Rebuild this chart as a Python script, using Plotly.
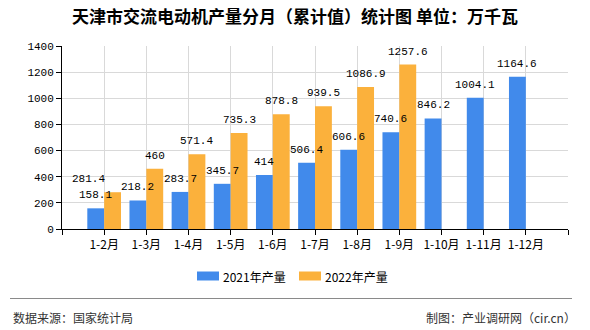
import plotly.graph_objects as go

# Monthly cumulative output of AC electric motors in Tianjin (10k kW)
categories = ["1-2月", "1-3月", "1-4月", "1-5月", "1-6月", "1-7月",
              "1-8月", "1-9月", "1-10月", "1-11月", "1-12月"]
values_2021 = [158.1, 218.2, 283.7, 345.7, 414, 506.4, 606.6, 740.6,
               846.2, 1004.1, 1164.6]
values_2022 = [281.4, 460, 571.4, 735.3, 878.8, 939.5, 1086.9, 1257.6,
               None, None, None]
series_names = ["2021年产量", "2022年产量"]
y_ticks = [0, 200, 400, 600, 800, 1000, 1200, 1400]

BLUE = "#418aeb"
ORANGE = "#fbb13c"
COLORS = [BLUE, ORANGE]
CJK = "Noto Sans CJK SC, Noto Sans, sans-serif"
MONO = "Liberation Mono, DejaVu Sans Mono, monospace"

# plot-area geometry in pixels
W, H = 590, 330
L, R, T, B = 62, 22, 46, 101
PW, PH = W - L - R, H - T - B


def px_x(x):
    return (x - L) / PW


def px_y(y):
    return (H - B - y) / PH


xs = list(range(len(categories)))


def fmt(v):
    return f"{v:g}"


fig = go.Figure()
for name, vals, col in zip(series_names, [values_2021, values_2022], COLORS):
    fig.add_trace(go.Bar(x=xs, y=vals, name=name, showlegend=False,
                         marker=dict(color=col, line=dict(width=0))))

# value labels above each bar
annotations = []
for i, v in enumerate(values_2021):
    annotations.append(dict(x=i - 0.2, y=v, xref="x", yref="y", text=fmt(v),
                            showarrow=False, yanchor="bottom", yshift=5,
                            font=dict(family=MONO, size=11, color="#000")))
for i, v in enumerate(values_2022):
    if v is None:
        continue
    xshift = -24 if i == 0 else 0
    annotations.append(dict(x=i + 0.2, y=v, xref="x", yref="y", text=fmt(v),
                            showarrow=False, yanchor="bottom", yshift=5,
                            xshift=xshift,
                            font=dict(family=MONO, size=11, color="#000")))

# legend: wide colour swatches followed by series names
shapes = []
legend_x0 = [197, 299]
for x0, name, col in zip(legend_x0, series_names, COLORS):
    shapes.append(dict(type="rect", xref="paper", yref="paper",
                       x0=px_x(x0), x1=px_x(x0 + 22),
                       y0=px_y(280.5), y1=px_y(271.5),
                       fillcolor=col, line=dict(width=0)))
    annotations.append(dict(x=px_x(x0 + 24), y=px_y(276), xref="paper",
                            yref="paper", text=name, showarrow=False,
                            xanchor="left", yanchor="middle",
                            font=dict(family=CJK, size=12, color="#000")))

# footer rule and texts
shapes.append(dict(type="line", xref="paper", yref="paper",
                   x0=px_x(10), x1=px_x(572), y0=px_y(298.5), y1=px_y(298.5),
                   line=dict(color="#8a8a8a", width=1)))
annotations += [
    dict(x=px_x(11), y=px_y(317), xref="paper", yref="paper",
         text="数据来源：国家统计局",
         showarrow=False, xanchor="left", yanchor="middle",
         font=dict(family=CJK, size=12, color="#333")),
    dict(x=px_x(578), y=px_y(317), xref="paper", yref="paper",
         text="制图：产业调研网（cir.cn）",
         showarrow=False, xanchor="right", yanchor="middle",
         font=dict(family=CJK, size=12, color="#333")),
]

fig.update_layout(
    width=W, height=H,
    margin=dict(l=L, r=R, t=T, b=B),
    paper_bgcolor="white", plot_bgcolor="white",
    title=dict(text="天津市交流电动机产量分月（累计值）统计图 单位：万千瓦",
               x=0.5, xanchor="center", y=1 - 17 / H, yanchor="middle",
               font=dict(family=CJK, size=17, color="#000", weight="bold")),
    barmode="group", bargap=0.2, bargroupgap=0,
    showlegend=False,
    annotations=annotations,
    shapes=shapes,
)

fig.update_xaxes(
    range=[-1, len(categories)],
    tickmode="array",
    tickvals=[-1] + xs + [len(categories)],
    ticktext=[""] + categories + [""],
    showgrid=True, gridcolor="#d9d9d9", gridwidth=1,
    showline=True, linecolor="#000", linewidth=1,
    ticks="outside", ticklen=5, tickcolor="#000",
    tickfont=dict(family=CJK, size=12, color="#000"),
    zeroline=False, mirror=False,
)
fig.update_yaxes(
    range=[0, 1400],
    tickmode="array", tickvals=y_ticks,
    showgrid=True, gridcolor="#d9d9d9", gridwidth=1,
    showline=True, linecolor="#000", linewidth=1,
    ticks="outside", ticklen=5, tickcolor="#000",
    tickfont=dict(family=MONO, size=11, color="#000"),
    zeroline=False,
)

fig.write_html("out.html")
